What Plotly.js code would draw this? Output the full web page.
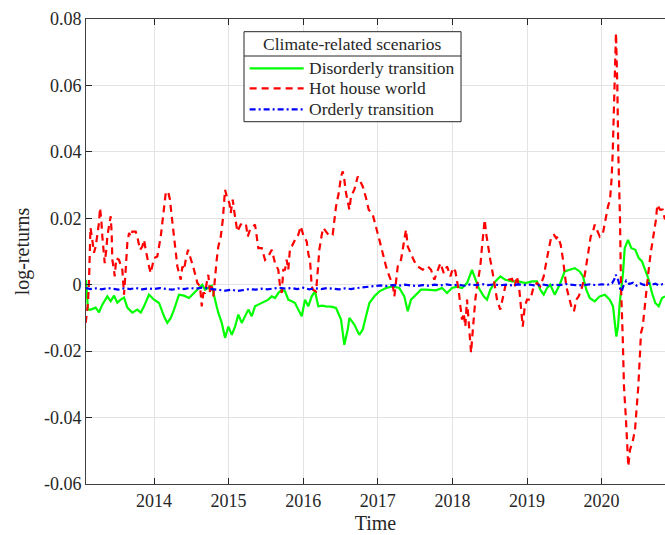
<!DOCTYPE html>
<html>
<head>
<meta charset="utf-8">
<script src="https://cdn.plot.ly/plotly-3.0.1.min.js"></script>
<style>html,body{margin:0;padding:0;background:#fff;}#chart{width:665px;height:535px;}</style>
</head>
<body>
<div id="chart"></div>
<script>
// ---- data (decimal years, log-returns) ----
const greenYears = [2013.088,2013.115,2013.151,2013.218,2013.262,2013.307,2013.374,2013.419,2013.464,2013.508,2013.553,2013.598,2013.642,2013.709,2013.776,2013.822,2013.866,2013.933,2014.000,2014.067,2014.134,2014.178,2014.224,2014.268,2014.335,2014.402,2014.469,2014.536,2014.603,2014.647,2014.684,2014.728,2014.774,2014.818,2014.862,2014.908,2014.952,2014.997,2015.042,2015.086,2015.130,2015.176,2015.220,2015.264,2015.310,2015.354,2015.398,2015.444,2015.488,2015.532,2015.578,2015.622,2015.666,2015.712,2015.756,2015.800,2015.846,2015.890,2015.934,2015.980,2016.024,2016.068,2016.114,2016.158,2016.202,2016.252,2016.306,2016.373,2016.440,2016.507,2016.551,2016.597,2016.619,2016.685,2016.752,2016.798,2016.842,2016.887,2016.954,2017.021,2017.110,2017.200,2017.288,2017.355,2017.401,2017.445,2017.512,2017.579,2017.646,2017.713,2017.780,2017.861,2017.928,2017.995,2018.062,2018.129,2018.196,2018.263,2018.307,2018.353,2018.420,2018.464,2018.508,2018.575,2018.642,2018.709,2018.799,2018.888,2018.977,2019.067,2019.134,2019.178,2019.224,2019.268,2019.312,2019.371,2019.438,2019.505,2019.572,2019.639,2019.706,2019.751,2019.795,2019.841,2019.908,2019.975,2020.042,2020.109,2020.153,2020.176,2020.198,2020.220,2020.243,2020.287,2020.310,2020.354,2020.399,2020.452,2020.498,2020.542,2020.586,2020.632,2020.676,2020.720,2020.766,2020.810,2020.850];
const disorderly = [0.0015,-0.0075,-0.0075,-0.0069,-0.0083,-0.0060,-0.0035,-0.0050,-0.0033,-0.0054,-0.0045,-0.0039,-0.0069,-0.0084,-0.0075,-0.0084,-0.0065,-0.0030,-0.0045,-0.0055,-0.0095,-0.0115,-0.0100,-0.0075,-0.0030,-0.0033,-0.0040,-0.0025,-0.0009,0.0000,-0.0015,-0.0010,-0.0003,-0.0045,-0.0085,-0.0115,-0.0160,-0.0126,-0.0151,-0.0126,-0.0090,-0.0115,-0.0095,-0.0075,-0.0095,-0.0065,-0.0060,-0.0055,-0.0050,-0.0045,-0.0035,-0.0040,-0.0025,-0.0015,-0.0020,-0.0045,-0.0050,-0.0055,-0.0075,-0.0095,-0.0045,-0.0065,-0.0035,-0.0020,-0.0065,-0.0063,-0.0065,-0.0066,-0.0070,-0.0105,-0.0181,-0.0135,-0.0100,-0.0120,-0.0151,-0.0135,-0.0095,-0.0055,-0.0035,-0.0020,-0.0010,-0.0005,-0.0010,-0.0035,-0.0080,-0.0045,-0.0030,-0.0015,-0.0015,-0.0015,-0.0017,-0.0010,-0.0025,-0.0010,-0.0006,-0.0010,0.0005,0.0045,0.0015,-0.0010,-0.0035,-0.0045,-0.0015,0.0010,0.0025,0.0015,0.0010,0.0010,0.0005,0.0010,0.0010,-0.0015,-0.0030,-0.0010,0.0000,-0.0030,0.0000,0.0040,0.0045,0.0050,0.0040,0.0025,-0.0015,-0.0040,-0.0050,-0.0035,-0.0030,-0.0045,-0.0065,-0.0105,-0.0156,-0.0126,-0.0055,0.0035,0.0110,0.0135,0.0110,0.0105,0.0080,0.0070,0.0045,0.0015,-0.0025,-0.0055,-0.0065,-0.0040,-0.0035];

const redYears = [2013.084,2013.115,2013.128,2013.135,2013.142,2013.148,2013.172,2013.195,2013.218,2013.240,2013.262,2013.276,2013.293,2013.307,2013.320,2013.339,2013.360,2013.374,2013.396,2013.419,2013.432,2013.441,2013.463,2013.473,2013.494,2013.530,2013.575,2013.590,2013.598,2013.620,2013.634,2013.642,2013.665,2013.687,2013.709,2013.754,2013.776,2013.812,2013.843,2013.866,2013.889,2013.910,2013.933,2013.956,2013.973,2014.000,2014.044,2014.067,2014.090,2014.111,2014.134,2014.157,2014.188,2014.214,2014.232,2014.251,2014.268,2014.291,2014.313,2014.335,2014.358,2014.380,2014.402,2014.425,2014.456,2014.483,2014.514,2014.536,2014.559,2014.581,2014.617,2014.640,2014.661,2014.684,2014.706,2014.728,2014.751,2014.774,2014.795,2014.818,2014.840,2014.862,2014.895,2014.922,2014.939,2014.952,2014.975,2015.010,2015.028,2015.055,2015.072,2015.099,2015.117,2015.162,2015.197,2015.233,2015.256,2015.287,2015.323,2015.354,2015.377,2015.398,2015.444,2015.488,2015.532,2015.578,2015.622,2015.666,2015.689,2015.712,2015.733,2015.756,2015.778,2015.800,2015.823,2015.850,2015.890,2015.934,2015.966,2016.001,2016.047,2016.071,2016.091,2016.114,2016.131,2016.172,2016.189,2016.216,2016.248,2016.270,2016.306,2016.346,2016.395,2016.417,2016.440,2016.476,2016.507,2016.530,2016.551,2016.574,2016.619,2016.641,2016.685,2016.731,2016.762,2016.798,2016.842,2016.878,2016.932,2016.976,2017.021,2017.066,2017.110,2017.155,2017.200,2017.222,2017.267,2017.311,2017.342,2017.378,2017.401,2017.445,2017.490,2017.535,2017.602,2017.669,2017.713,2017.758,2017.794,2017.839,2017.884,2017.928,2017.973,2018.009,2018.040,2018.086,2018.107,2018.129,2018.152,2018.173,2018.196,2018.219,2018.240,2018.250,2018.263,2018.286,2018.307,2018.330,2018.353,2018.374,2018.397,2018.420,2018.433,2018.451,2018.477,2018.508,2018.540,2018.567,2018.598,2018.642,2018.687,2018.718,2018.754,2018.799,2018.835,2018.866,2018.897,2018.924,2018.943,2018.970,2019.000,2019.045,2019.090,2019.134,2019.178,2019.224,2019.245,2019.268,2019.299,2019.326,2019.362,2019.393,2019.416,2019.452,2019.483,2019.505,2019.527,2019.559,2019.594,2019.630,2019.661,2019.693,2019.728,2019.764,2019.795,2019.827,2019.854,2019.885,2019.908,2019.942,2019.975,2020.019,2020.042,2020.063,2020.086,2020.113,2020.133,2020.149,2020.166,2020.180,2020.193,2020.211,2020.224,2020.247,2020.260,2020.283,2020.300,2020.327,2020.350,2020.358,2020.381,2020.417,2020.448,2020.479,2020.492,2020.515,2020.528,2020.551,2020.568,2020.595,2020.626,2020.658,2020.693,2020.729,2020.747,2020.783,2020.819,2020.850];
const hotHouse = [-0.0115,-0.0055,0.0006,0.0055,0.0105,0.0172,0.0135,0.0096,0.0115,0.0145,0.0186,0.0231,0.0196,0.0145,0.0105,0.0065,0.0105,0.0145,0.0176,0.0206,0.0156,0.0075,0.0045,0.0025,0.0080,0.0075,0.0045,0.0005,-0.0030,0.0045,0.0095,0.0126,0.0156,0.0145,0.0160,0.0160,0.0145,0.0105,0.0115,0.0135,0.0105,0.0075,0.0055,0.0035,0.0051,0.0080,0.0085,0.0115,0.0145,0.0186,0.0231,0.0276,0.0281,0.0256,0.0216,0.0176,0.0135,0.0095,0.0055,0.0035,0.0015,0.0055,0.0045,0.0075,0.0105,0.0085,0.0065,0.0045,0.0025,0.0005,-0.0005,-0.0065,-0.0025,-0.0025,0.0005,0.0030,-0.0025,-0.0005,-0.0035,0.0035,0.0075,0.0115,0.0145,0.0196,0.0256,0.0286,0.0266,0.0246,0.0216,0.0256,0.0226,0.0186,0.0160,0.0181,0.0186,0.0181,0.0145,0.0166,0.0176,0.0181,0.0145,0.0110,0.0110,0.0075,0.0085,0.0105,0.0065,0.0045,-0.0005,-0.0025,0.0045,0.0045,0.0075,0.0045,0.0110,0.0117,0.0135,0.0150,0.0176,0.0150,0.0130,0.0090,0.0075,-0.0005,-0.0015,-0.0020,0.0025,0.0105,0.0150,0.0171,0.0160,0.0148,0.0150,0.0196,0.0236,0.0276,0.0326,0.0341,0.0316,0.0276,0.0226,0.0266,0.0286,0.0326,0.0310,0.0296,0.0261,0.0226,0.0211,0.0176,0.0135,0.0095,0.0055,0.0025,0.0000,-0.0035,0.0055,0.0075,0.0115,0.0166,0.0115,0.0095,0.0070,0.0055,0.0045,0.0055,0.0045,0.0015,0.0035,0.0065,0.0035,0.0055,0.0025,0.0051,0.0040,-0.0020,-0.0065,-0.0105,-0.0085,-0.0126,-0.0045,-0.0105,-0.0186,-0.0205,-0.0166,-0.0095,-0.0045,-0.0005,0.0025,0.0055,0.0115,0.0166,0.0196,0.0156,0.0115,0.0075,0.0035,-0.0005,-0.0045,-0.0075,-0.0025,0.0005,0.0015,0.0018,-0.0005,0.0025,-0.0015,-0.0075,-0.0126,-0.0065,-0.0045,-0.0045,-0.0005,0.0005,-0.0005,0.0025,0.0055,0.0080,0.0115,0.0145,0.0150,0.0140,0.0145,0.0120,0.0075,0.0035,-0.0005,-0.0035,-0.0065,-0.0080,-0.0045,-0.0035,-0.0015,0.0015,0.0055,0.0105,0.0145,0.0160,0.0181,0.0160,0.0145,0.0156,0.0186,0.0206,0.0236,0.0256,0.0316,0.0396,0.0547,0.0677,0.0758,0.0597,0.0396,0.0196,-0.0005,-0.0156,-0.0306,-0.0407,-0.0507,-0.0547,-0.0497,-0.0472,-0.0437,-0.0356,-0.0306,-0.0206,-0.0145,-0.0126,-0.0085,-0.0025,0.0035,0.0095,0.0145,0.0196,0.0241,0.0226,0.0226,0.0196];

const blueYears = [2013.088,2013.15,2013.22,2013.30,2013.38,2013.45,2013.52,2013.60,2013.68,2013.76,2013.84,2013.92,2014.00,2014.08,2014.16,2014.24,2014.32,2014.40,2014.48,2014.56,2014.64,2014.72,2014.80,2014.88,2014.96,2015.04,2015.12,2015.20,2015.28,2015.36,2015.44,2015.52,2015.60,2015.68,2015.76,2015.84,2015.92,2016.00,2016.08,2016.16,2016.24,2016.32,2016.40,2016.48,2016.56,2016.64,2016.72,2016.80,2016.88,2016.96,2017.04,2017.12,2017.20,2017.28,2017.36,2017.44,2017.52,2017.60,2017.68,2017.76,2017.84,2017.92,2018.00,2018.08,2018.16,2018.24,2018.32,2018.40,2018.48,2018.56,2018.64,2018.72,2018.80,2018.88,2018.96,2019.04,2019.12,2019.20,2019.28,2019.36,2019.44,2019.52,2019.60,2019.68,2019.76,2019.84,2019.92,2020.00,2020.08,2020.14,2020.17,2020.19,2020.21,2020.23,2020.25,2020.27,2020.29,2020.33,2020.37,2020.42,2020.47,2020.52,2020.57,2020.62,2020.67,2020.72,2020.77,2020.82,2020.85];
const orderly = [-0.0010,-0.0013,-0.0011,-0.0014,-0.0010,-0.0012,-0.0015,-0.0011,-0.0013,-0.0010,-0.0014,-0.0011,-0.0013,-0.0010,-0.0012,-0.0015,-0.0011,-0.0013,-0.0010,-0.0012,-0.0009,-0.0012,-0.0014,-0.0016,-0.0018,-0.0015,-0.0019,-0.0016,-0.0013,-0.0015,-0.0012,-0.0014,-0.0011,-0.0009,-0.0012,-0.0010,-0.0013,-0.0009,-0.0014,-0.0011,-0.0013,-0.0010,-0.0012,-0.0014,-0.0011,-0.0013,-0.0010,-0.0008,-0.0006,-0.0004,-0.0002,-0.0004,-0.0001,-0.0003,0.0000,-0.0002,-0.0004,-0.0001,-0.0003,0.0000,-0.0002,0.0001,-0.0002,0.0000,-0.0003,0.0001,-0.0001,0.0002,-0.0001,0.0001,-0.0002,0.0000,-0.0002,0.0001,-0.0001,0.0000,-0.0003,0.0001,-0.0002,0.0000,-0.0001,0.0002,0.0000,-0.0002,-0.0001,0.0001,-0.0001,0.0001,0.0000,0.0004,0.0016,0.0030,0.0022,0.0008,-0.0014,-0.0020,-0.0005,0.0012,0.0002,0.0006,-0.0003,0.0004,-0.0001,0.0005,0.0000,0.0003,-0.0002,0.0002,0.0000];

const seriesNames = ['Disorderly transition','Hot house world','Orderly transition'];
const legendTitle = 'Climate-related scenarios';
const xTickVals = [2014,2015,2016,2017,2018,2019,2020];
const xTickText = ['2014','2015','2016','2017','2018','2019','2020'];
const yTickVals = [-0.06,-0.04,-0.02,0,0.02,0.04,0.06,0.08];
const yTickText = ['-0.06','-0.04','-0.02','0','0.02','0.04','0.06','0.08'];

const serif = 'Liberation Serif, Times New Roman, serif';
const txt = '#262626';
const colors = ['#00ff00','#ff0000','#0000ff'];
const dashes = ['solid','7px,5px','6px,3px,2px,3px'];

const traces = [
  {x: greenYears, y: disorderly, name: seriesNames[0], type:'scatter', mode:'lines',
   line:{color:colors[0], width:2.2, dash:dashes[0]}, showlegend:false},
  {x: redYears, y: hotHouse, name: seriesNames[1], type:'scatter', mode:'lines',
   line:{color:colors[1], width:2.2, dash:dashes[1]}, showlegend:false},
  {x: blueYears, y: orderly, name: seriesNames[2], type:'scatter', mode:'lines',
   line:{color:colors[2], width:2.2, dash:dashes[2]}, showlegend:false}
];

// legend box (paper coordinates)
const lgX0 = 0.2729, lgX1 = 0.6477, lgY0 = 0.7791, lgY1 = 0.9727, lgSep = 0.9204;
const lgRowY = [0.8940, 0.8510, 0.8058];
const lgLineX = [0.2826, 0.3759], lgTextX = 0.3817;

const shapes = [
  {type:'rect', xref:'paper', yref:'paper', x0:lgX0, x1:lgX1, y0:lgY0, y1:lgY1,
   fillcolor:'#ffffff', line:{color:txt, width:1}, layer:'above'},
  {type:'line', xref:'paper', yref:'paper', x0:lgX0, x1:lgX1, y0:lgSep, y1:lgSep,
   line:{color:txt, width:1}, layer:'above'}
];
const annotations = [
  {xref:'paper', yref:'paper', x:(lgX0+lgX1)/2, y:(lgY1+lgSep)/2, text:legendTitle,
   showarrow:false, xanchor:'center', yanchor:'middle', font:{family:serif, size:17.5, color:txt}}
];
seriesNames.forEach((nm, i) => {
  shapes.push({type:'line', xref:'paper', yref:'paper', x0:lgLineX[0], x1:lgLineX[1], y0:lgRowY[i], y1:lgRowY[i],
    line:{color:colors[i], width:2.2, dash:dashes[i]}, layer:'above'});
  annotations.push({xref:'paper', yref:'paper', x:lgTextX, y:lgRowY[i], text:nm, showarrow:false,
    xanchor:'left', yanchor:'middle', font:{family:serif, size:17.5, color:txt}});
});

const layout = {
  width:665, height:535,
  margin:{l:86, r:0, t:19, b:51},
  paper_bgcolor:'#fff', plot_bgcolor:'#fff',
  font:{family:serif, color:txt, size:18},
  showlegend:false,
  shapes: shapes,
  annotations: annotations,
  xaxis:{
    range:[2013.088, 2020.85], tickmode:'array', tickvals:xTickVals, ticktext:xTickText,
    ticks:'inside', ticklen:6, tickwidth:1, tickcolor:txt,
    showline:true, linecolor:'#404040', linewidth:1, mirror:'ticks',
    showgrid:true, gridcolor:'#e3e3e3', gridwidth:1, zeroline:false,
    tickfont:{family:serif, size:18, color:txt},
    title:{text:'Time', font:{family:serif, size:20, color:txt}, standoff:6}
  },
  yaxis:{
    range:[-0.06, 0.08], tickmode:'array', tickvals:yTickVals, ticktext:yTickText,
    ticks:'inside', ticklen:6, tickwidth:1, tickcolor:txt,
    showline:true, linecolor:'#404040', linewidth:1,
    showgrid:true, gridcolor:'#e3e3e3', gridwidth:1, zeroline:false,
    tickfont:{family:serif, size:18, color:txt},
    title:{text:'log-returns', font:{family:serif, size:20, color:txt}, standoff:8}
  }
};

Plotly.newPlot('chart', traces, layout, {displayModeBar:false, staticPlot:true});
</script>
</body>
</html>
